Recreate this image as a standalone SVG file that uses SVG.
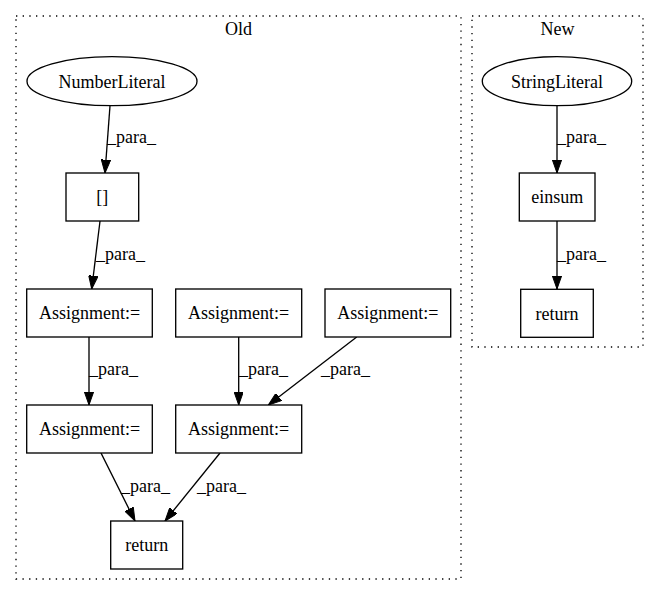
<svg xmlns="http://www.w3.org/2000/svg" width="659" height="596" viewBox="0 0 659 596">
<style>
text{font-family:"Liberation Serif","Times New Roman",serif;font-size:18px;fill:#000}
.c{text-anchor:middle}
.n{fill:#fff;stroke:#000;stroke-width:1.33}
.cl{fill:none;stroke:#000;stroke-width:1.33;stroke-dasharray:1.33,5.33}
.e{fill:none;stroke:#000;stroke-width:1.33;marker-end:url(#ah)}
</style>
<defs>
<marker id="ah" viewBox="0 0 13.3 9.4" refX="13.3" refY="4.7" markerWidth="13.3" markerHeight="9.4" markerUnits="userSpaceOnUse" orient="auto">
<path d="M0,0 L13.3,4.7 L0,9.4 z" fill="#000" stroke="#000" stroke-width="1"/>
</marker>
</defs>
<rect width="659" height="596" fill="#fff"/>
<g id="cluster_old">
<rect class="cl" x="16" y="16" width="445" height="563"/>
<text class="c" x="238.5" y="35">Old</text>
</g>
<g id="cluster_new">
<rect class="cl" x="472" y="16" width="171" height="331"/>
<text class="c" x="557.5" y="35">New</text>
</g>
<g id="connectors">
<path class="e" d="M110,105.7 L105,173"/>
<text x="107" y="143">_para_</text>
<path class="e" d="M100,221 L91.7,289"/>
<text x="96" y="260">_para_</text>
<path class="e" d="M89,337 L89,405"/>
<text x="89" y="375">_para_</text>
<path class="e" d="M238.7,337 L238.7,405"/>
<text x="239" y="375">_para_</text>
<path class="e" d="M356.7,337 L268.3,405"/>
<text x="321" y="375">_para_</text>
<path class="e" d="M101,453 L135,521"/>
<text x="121" y="492">_para_</text>
<path class="e" d="M220,453 L165,521"/>
<text x="197" y="492">_para_</text>
<path class="e" d="M557,105.7 L557,173"/>
<text x="557" y="143">_para_</text>
<path class="e" d="M557,221 L557,289"/>
<text x="557" y="260">_para_</text>
</g>
<g id="NumberLiteral">
<ellipse class="n" cx="112" cy="81.2" rx="85" ry="24.5"/>
<text class="c" x="112" y="87.5">NumberLiteral</text>
</g>
<g id="subscript">
<rect class="n" x="66" y="173" width="72.7" height="48"/>
<text class="c" x="102.3" y="203.3">[]</text>
</g>
<g id="assign1">
<rect class="n" x="26.7" y="289" width="125.6" height="48"/>
<text class="c" x="89.5" y="319.3">Assignment:=</text>
</g>
<g id="assign2">
<rect class="n" x="175.7" y="289" width="126" height="48"/>
<text class="c" x="238.7" y="319.3">Assignment:=</text>
</g>
<g id="assign3">
<rect class="n" x="325" y="289" width="125.7" height="48"/>
<text class="c" x="387.8" y="319.3">Assignment:=</text>
</g>
<g id="assign4">
<rect class="n" x="26.7" y="405" width="125.6" height="48"/>
<text class="c" x="89.5" y="435.3">Assignment:=</text>
</g>
<g id="assign5">
<rect class="n" x="175.7" y="405" width="126" height="48"/>
<text class="c" x="238.7" y="435.3">Assignment:=</text>
</g>
<g id="return_old">
<rect class="n" x="110.7" y="521" width="72" height="48"/>
<text class="c" x="146.7" y="551.3">return</text>
</g>
<g id="StringLiteral">
<ellipse class="n" cx="557" cy="81.2" rx="74.7" ry="24.5"/>
<text class="c" x="557" y="87.5">StringLiteral</text>
</g>
<g id="einsum">
<rect class="n" x="519.3" y="173" width="75.7" height="48"/>
<text class="c" x="557.2" y="203.3">einsum</text>
</g>
<g id="return_new">
<rect class="n" x="520.7" y="289.3" width="72.6" height="48"/>
<text class="c" x="557" y="319.6">return</text>
</g>
</svg>
